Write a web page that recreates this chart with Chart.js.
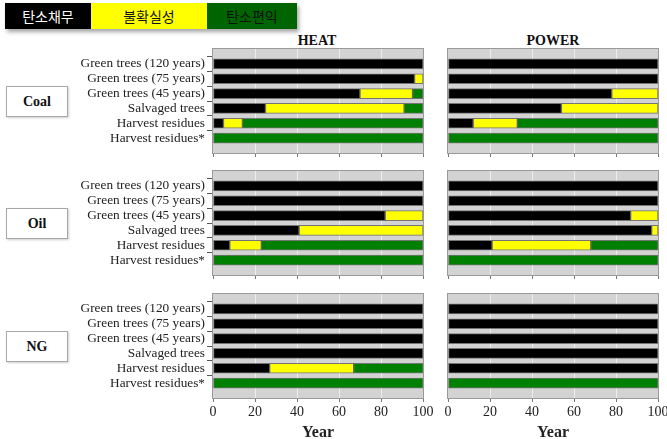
<!DOCTYPE html>
<html>
<head>
<meta charset="utf-8">
<script src="https://cdn.jsdelivr.net/npm/chart.js@4/dist/chart.umd.min.js"></script>
<style>
  html, body { margin: 0; padding: 0; background: #fff; }
  body { width: 667px; height: 439px; position: relative; overflow: hidden; }
  canvas { position: absolute; }
  .legend { position: absolute; top: 3px; height: 26px; display: flex; box-shadow: 2px 3px 4px rgba(0,0,0,0.35); }
  .legend div { display: flex; align-items: center; justify-content: center; font: 14px "Noto Sans CJK KR", sans-serif; }
  .fuel { position: absolute; left: 6px; width: 60px; height: 29px; border: 1px solid #a8a8a8;
          box-shadow: 1px 1px 2px rgba(0,0,0,0.2); display: flex; align-items: center; justify-content: center;
          font: bold 14px "Liberation Serif", serif; color: #111; }
  .title { position: absolute; top: 33px; font: bold 14px "Liberation Serif", serif; color: #111; transform: translateX(-50%); }
</style>
</head>
<body>
<div class="legend" id="legend"></div>
<div class="title" style="left:317px">HEAT</div>
<div class="title" style="left:553px">POWER</div>
<div class="fuel" id="fuel0"></div>
<div class="fuel" id="fuel1"></div>
<div class="fuel" id="fuel2"></div>

<canvas id="coalHeat" width="440" height="114"></canvas>
<canvas id="coalPower" width="240" height="114"></canvas>
<canvas id="oilHeat" width="440" height="114"></canvas>
<canvas id="oilPower" width="240" height="114"></canvas>
<canvas id="ngHeat" width="440" height="152"></canvas>
<canvas id="ngPower" width="240" height="152"></canvas>

<script>
// Data
const rowLabels = ['Green trees (120 years)', 'Green trees (75 years)', 'Green trees (45 years)',
                   'Salvaged trees', 'Harvest residues', 'Harvest residues*'];
const fuels = ['Coal', 'Oil', 'NG'];
const legendLabels = ['탄소채무', '불확실성', '탄소편익'];
const xTicks = [0, 20, 40, 60, 80, 100];

// segment lengths in years: debt (black), uncertainty (yellow), benefit (green)
const coalHeatDebt = [100, 96, 70, 25, 5, 0];
const coalHeatUnc  = [0, 4, 25, 66, 9, 0];
const coalHeatBen  = [0, 0, 5, 9, 86, 100];

const coalPowerDebt = [100, 100, 78, 54, 12, 0];
const coalPowerUnc  = [0, 0, 22, 46, 21, 0];
const coalPowerBen  = [0, 0, 0, 0, 67, 100];

const oilHeatDebt = [100, 100, 82, 41, 8, 0];
const oilHeatUnc  = [0, 0, 18, 59, 15, 0];
const oilHeatBen  = [0, 0, 0, 0, 77, 100];

const oilPowerDebt = [100, 100, 87, 97, 21, 0];
const oilPowerUnc  = [0, 0, 13, 3, 47, 0];
const oilPowerBen  = [0, 0, 0, 0, 32, 100];

const ngHeatDebt = [100, 100, 100, 100, 27, 0];
const ngHeatUnc  = [0, 0, 0, 0, 40, 0];
const ngHeatBen  = [0, 0, 0, 0, 33, 100];

const ngPowerDebt = [100, 100, 100, 100, 100, 0];
const ngPowerUnc  = [0, 0, 0, 0, 0, 0];
const ngPowerBen  = [0, 0, 0, 0, 0, 100];

const colors = ['#000000', '#ffff00', '#008000'];
const legendBg = ['#000000', '#ffff00', '#006400'];
const legendFg = ['#ffffff', '#111111', '#111111'];
const legendW = [86, 116, 90];

// legend + fuel boxes
const legend = document.getElementById('legend');
legend.style.left = '5px';
legendLabels.forEach((t, i) => {
    const d = document.createElement('div');
    d.textContent = t;
    d.style.width = legendW[i] + 'px';
    d.style.background = legendBg[i];
    d.style.color = legendFg[i];
    legend.appendChild(d);
});

const panelTops = [49, 171, 294];
fuels.forEach((f, i) => {
    const el = document.getElementById('fuel' + i);
    el.textContent = f;
    el.style.top = (panelTops[i] + 52 - 15) + 'px';
});

// panel background and frame
const panelBg = {
    id: 'panelBg',
    beforeDraw(chart) {
        const { ctx, chartArea: a } = chart;
        ctx.save();
        ctx.fillStyle = '#d3d3d3';
        ctx.fillRect(a.left, a.top, a.width, a.height);
        ctx.restore();
    },
    afterDraw(chart) {
        const { ctx, chartArea: a } = chart;
        ctx.save();
        ctx.strokeStyle = '#9a9a9a';
        ctx.lineWidth = 1;
        ctx.strokeRect(a.left - 0.5, a.top - 0.5, a.width + 1, a.height + 1);
        ctx.restore();
    }
};

const serif = '"Liberation Serif", "Times New Roman", serif';
const pad = v => [null, ...v.map(x => x === 0 ? null : x), null];
const allLabels = [null, ...rowLabels, null];

function makePanel(id, debt, unc, ben, isLeft, isBottom, left, top) {
    const el = document.getElementById(id);
    el.style.left = left + 'px';
    el.style.top = top + 'px';
    const w = el.width;
    new Chart(el, {
        type: 'bar',
        data: {
            labels: allLabels,
            datasets: [debt, unc, ben].map((d, i) => ({
                label: legendLabels[i],
                data: pad(d),
                backgroundColor: colors[i],
                borderColor: 'rgba(40,40,40,0.55)',
                borderWidth: 1,
                borderSkipped: false,
                barThickness: 10
            }))
        },
        options: {
            indexAxis: 'y',
            responsive: false,
            animation: false,
            devicePixelRatio: 1,
            layout: {
                padding: { top: 4, bottom: 0, left: isLeft ? 0 : 8, right: isLeft ? w - 423 : w - 218 }
            },
            plugins: { legend: { display: false }, tooltip: { enabled: false } },
            scales: {
                x: {
                    type: 'linear',
                    stacked: true,
                    min: 0,
                    max: 100,
                    afterBuildTicks: s => { s.ticks = xTicks.map(v => ({ value: v })); },
                    border: { display: false },
                    grid: {
                        color: c => (c.tick && (c.tick.value === 0 || c.tick.value === 100)) ? 'rgba(0,0,0,0)' : 'rgba(255,255,255,0.6)',
                        tickColor: '#777',
                        tickLength: 4
                    },
                    ticks: {
                        display: isBottom,
                        color: '#222',
                        padding: 2,
                        maxRotation: 0,
                        font: { family: serif, size: 14 }
                    },
                    title: {
                        display: isBottom,
                        text: 'Year',
                        color: '#222',
                        padding: { top: 0, bottom: 0 },
                        font: { family: serif, size: 16, weight: 'bold' }
                    },
                    afterFit: s => {
                        s.height = isBottom ? 44 : 6;
                        s.paddingTop = 0;
                        s.paddingBottom = 0;
                    }
                },
                y: {
                    type: 'category',
                    stacked: true,
                    offset: false,
                    display: isLeft,
                    border: { display: false },
                    grid: {
                        drawOnChartArea: false,
                        tickLength: 6,
                        tickColor: c => (c.tick && c.tick.label) ? '#555' : 'rgba(0,0,0,0)'
                    },
                    ticks: {
                        color: '#222',
                        padding: 2,
                        autoSkip: false,
                        callback: v => allLabels[v] || null,
                        font: { family: serif, size: 13.3 }
                    },
                    afterFit: s => {
                        if (isLeft) s.width = 213;
                        s.paddingTop = 0;
                        s.paddingBottom = 0;
                    }
                }
            }
        },
        plugins: [panelBg]
    });
}

makePanel('coalHeat', coalHeatDebt, coalHeatUnc, coalHeatBen, true, false, 0, panelTops[0] - 4);
makePanel('coalPower', coalPowerDebt, coalPowerUnc, coalPowerBen, false, false, 440, panelTops[0] - 4);
makePanel('oilHeat', oilHeatDebt, oilHeatUnc, oilHeatBen, true, false, 0, panelTops[1] - 4);
makePanel('oilPower', oilPowerDebt, oilPowerUnc, oilPowerBen, false, false, 440, panelTops[1] - 4);
makePanel('ngHeat', ngHeatDebt, ngHeatUnc, ngHeatBen, true, true, 0, panelTops[2] - 4);
makePanel('ngPower', ngPowerDebt, ngPowerUnc, ngPowerBen, false, true, 440, panelTops[2] - 4);
</script>
</body>
</html>
